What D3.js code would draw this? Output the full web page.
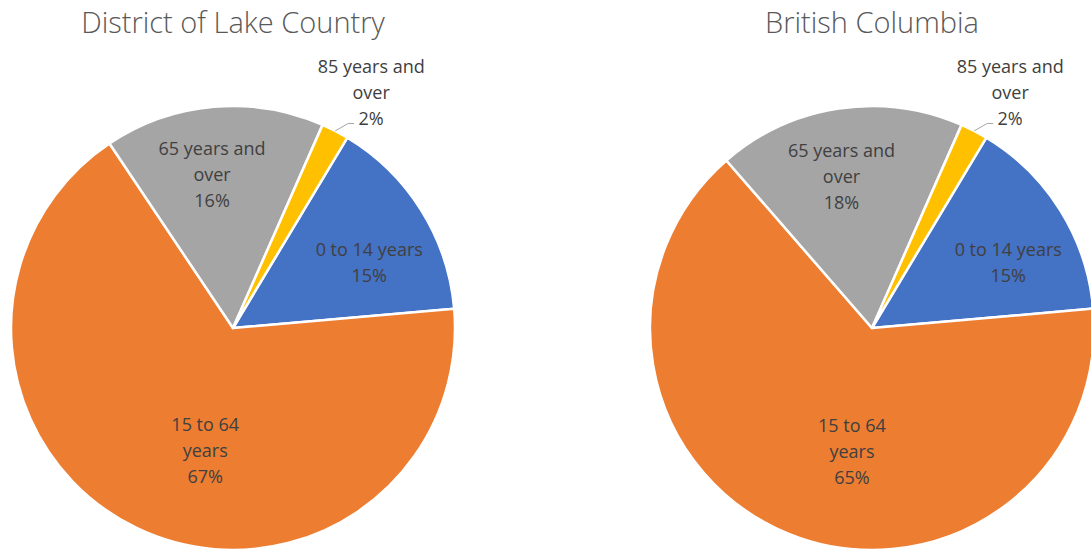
<!DOCTYPE html>
<html>
<head>
<meta charset="utf-8">
<script src="https://cdn.jsdelivr.net/npm/d3@7/dist/d3.min.js"></script>
<style>
  html, body { margin: 0; padding: 0; background: #ffffff; }
  svg { display: block; }
</style>
</head>
<body>
<svg id="chart" width="1091" height="554"></svg>
<script>
// Age groups, in the order the slices run clockwise
const categories = ["0 to 14 years", "15 to 64 years", "65 years and over", "85 years and over"];
// Wrapped label lines for each age group
const labelLines = [["0 to 14 years"], ["15 to 64", "years"], ["65 years and", "over"], ["85 years and", "over"]];
// Share of population (%)
const lakeCountry = [15, 67, 16, 2];
const britishColumbia = [15, 65, 18, 2];
const titles = ["District of Lake Country", "British Columbia"];

const colors = ["#4472C4", "#ED7D31", "#A5A5A5", "#FFC000"];

// Label placement relative to each slice: angle shift (deg) and radius fraction
const labelShift = [6.5, -12.8, -2.8, 3];
const labelRadius = [0.68, 0.565, 0.695, 1.23];
const outside = [false, false, false, true];

const R = 222;
const firstSliceAngle = 31 * Math.PI / 180;
const lineGap = 26;

const svg = d3.select("#chart");
const x = d3.scalePoint().domain(titles).range([233, 872]);
const cy = 328;

const color = d3.scaleOrdinal().domain(categories).range(colors);

const pie = d3.pie()
  .sort(null)
  .value(d => d.value)
  .startAngle(firstSliceAngle)
  .endAngle(firstSliceAngle + 2 * Math.PI);

const arc = d3.arc().innerRadius(0).outerRadius(R);

const datasets = [lakeCountry, britishColumbia];

datasets.forEach((values, ci) => {
  const cx = x(titles[ci]);
  const data = categories.map((c, i) => ({ cat: c, value: values[i], idx: i }));
  const g = svg.append("g").attr("transform", `translate(${cx},${cy})`);

  const arcs = pie(data);

  g.selectAll("path.slice")
    .data(arcs)
    .join("path")
    .attr("class", "slice")
    .attr("d", arc)
    .attr("fill", d => color(d.data.cat))
    .attr("stroke", "#ffffff")
    .attr("stroke-width", 2.5)
    .attr("stroke-linejoin", "round");

  // Title
  svg.append("text")
    .attr("x", cx)
    .attr("y", 33)
    .attr("text-anchor", "middle")
    .attr("font-family", "'Open Sans', 'Noto Sans', sans-serif")
    .attr("font-weight", 300)
    .attr("font-size", 29)
    .attr("fill", "#595959")
    .text(titles[ci]);

  // Data labels
  arcs.forEach(a => {
    const i = a.data.idx;
    const mid = (a.startAngle + a.endAngle) / 2 + labelShift[i] * Math.PI / 180;
    const r = R * labelRadius[i];
    const lx = Math.sin(mid) * r;
    const ly = -Math.cos(mid) * r;
    const lines = labelLines[i].concat([a.data.value + "%"]);
    const top = ly - (lines.length - 1) * lineGap / 2;

    const t = g.append("text")
      .attr("text-anchor", "middle")
      .attr("font-family", "'Open Sans', 'Noto Sans', sans-serif")
      .attr("font-size", 18)
      .attr("fill", "#404040");
    lines.forEach((s, k) => {
      t.append("tspan")
        .attr("x", lx)
        .attr("y", top + k * lineGap)
        .attr("dy", "0.35em")
        .text(s);
    });

    if (outside[i]) {
      // Leader line from slice edge to the label
      const a0 = (a.startAngle + a.endAngle) / 2;
      const sx = Math.sin(a0) * R, sy = -Math.cos(a0) * R;
      const ex = lx - 17, ey = top + (lines.length - 1) * lineGap + 5;
      g.append("path")
        .attr("d", `M${sx},${sy}L${ex - 6},${ey}L${ex},${ey}`)
        .attr("fill", "none")
        .attr("stroke", "#A6A6A6")
        .attr("stroke-width", 1);
    }
  });
});
</script>
</body>
</html>
